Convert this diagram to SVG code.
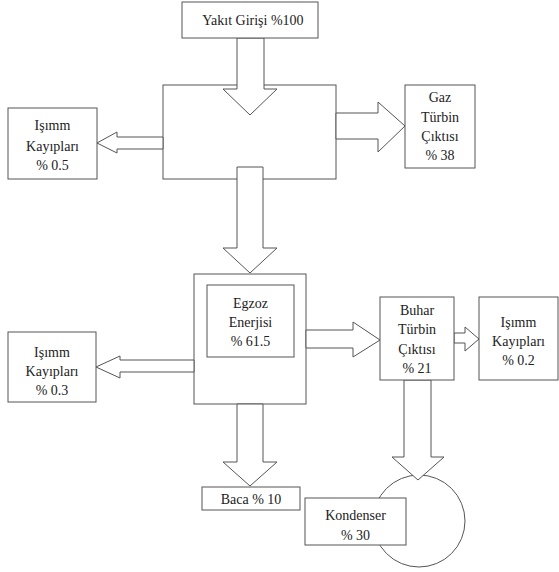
<svg xmlns="http://www.w3.org/2000/svg" width="559" height="572" viewBox="0 0 559 572">
<style>
.b{fill:#fff;stroke:#555;stroke-width:1}
.a{fill:#fff;stroke:#555;stroke-width:1;stroke-linejoin:miter}
.t{font-family:'Liberation Serif','DejaVu Serif',serif;font-size:14px;fill:#222;text-anchor:middle}
</style>
<rect width="559" height="572" fill="#fff"/>
<g id="node-combustion"><rect class="b" x="163" y="85" width="173" height="94"/></g>
<g id="node-egzoz"><rect class="b" x="194" y="274" width="112" height="130"/>
<rect class="b" x="207" y="285" width="87" height="72"/>
<text class="t" x="250.5" y="308">Egzoz</text><text class="t" x="250.5" y="327">Enerjisi</text><text class="t" x="250.5" y="346">% 61.5</text></g>
<g id="node-kondenser-circle"><circle class="b" cx="419" cy="521" r="46"/></g>
<g id="connectors">
<polygon class="a" points="237,38 264,38 264,89 277,89 250,115 223,89 237,89"/>
<polygon class="a" points="163,137 163,149 117,149 117,153 97,143 117,132 117,137"/>
<polygon class="a" points="336,113 378,113 378,102 405,126 378,152 378,139 336,139"/>
<polygon class="a" points="237,167 263,167 263,248 277,248 250,273 223,248 237,248"/>
<polygon class="a" points="194,360 194,372 120,372 120,378 96,367 120,356 120,360"/>
<polygon class="a" points="306,330 353,330 353,322 380,340 353,357 353,348 306,348"/>
<polygon class="a" points="454,333 465,333 465,327 479,339 465,351 465,343 454,343"/>
<polygon class="a" points="237,404 263,404 263,462 277,462 250,486 223,462 237,462"/>
<polygon class="a" points="404,380 431,380 431,457 444,457 418,480 392,457 404,457"/>
</g>
<g id="node-yakit"><rect class="b" x="182" y="2" width="136" height="36"/><text class="t" x="253" y="25">Yakıt Girişi %100</text></g>
<g id="node-isimm1"><rect class="b" x="8" y="108" width="89" height="71"/>
<text class="t" x="52.5" y="130">Işımm</text><text class="t" x="52.5" y="151">Kayıpları</text><text class="t" x="52.5" y="170">% 0.5</text></g>
<g id="node-gaz"><rect class="b" x="405" y="85" width="70" height="83"/>
<text class="t" x="440" y="102">Gaz</text><text class="t" x="440" y="122">Türbin</text><text class="t" x="440" y="141">Çıktısı</text><text class="t" x="440" y="160">% 38</text></g>
<g id="node-isimm2"><rect class="b" x="8" y="332" width="88" height="70"/>
<text class="t" x="52" y="357">Işımm</text><text class="t" x="52" y="376">Kayıpları</text><text class="t" x="52" y="395">% 0.3</text></g>
<g id="node-buhar"><rect class="b" x="380" y="297" width="74" height="83"/>
<text class="t" x="417" y="315">Buhar</text><text class="t" x="417" y="334">Türbin</text><text class="t" x="417" y="354">Çıktısı</text><text class="t" x="417" y="373">% 21</text></g>
<g id="node-isimm3"><rect class="b" x="479" y="297" width="79" height="83"/>
<text class="t" x="518.5" y="327">Işımm</text><text class="t" x="518.5" y="346">Kayıpları</text><text class="t" x="518.5" y="365">% 0.2</text></g>
<g id="node-baca"><rect class="b" x="202" y="487" width="98" height="23"/><text class="t" x="251" y="504">Baca % 10</text></g>
<g id="node-kondenser"><rect class="b" x="305" y="498" width="101" height="47"/>
<text class="t" x="355.5" y="520">Kondenser</text><text class="t" x="355.5" y="540">% 30</text></g>
</svg>
